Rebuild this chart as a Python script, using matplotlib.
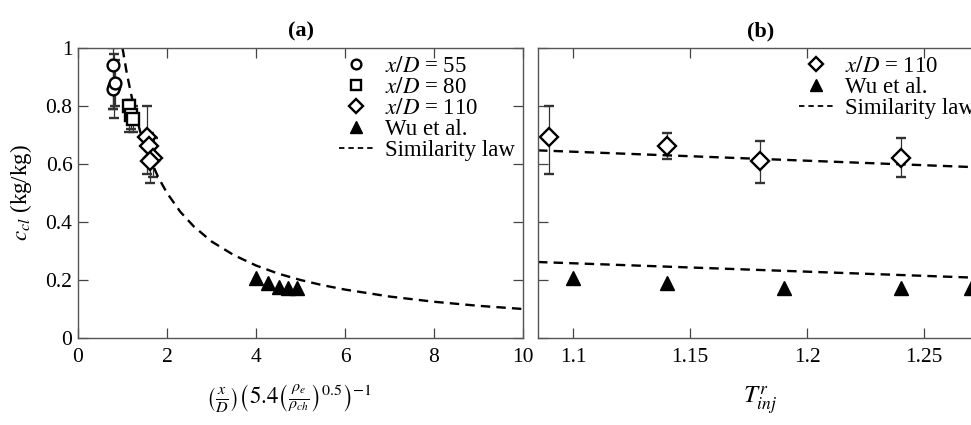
import matplotlib
matplotlib.use("Agg")
import matplotlib.pyplot as plt
from matplotlib.lines import Line2D
from matplotlib.ticker import FixedLocator, FixedFormatter

plt.rcParams["font.family"] = "serif"
plt.rcParams["font.serif"] = ["Liberation Serif", "DejaVu Serif"]
plt.rcParams["mathtext.fontset"] = "stix"
plt.rcParams["font.size"] = 16

# --- panel (a): similarity variable ---
xd55_x = [0.79, 0.81, 0.79, 0.83]
xd55_y = [0.94, 0.87, 0.86, 0.88]
xd55_lo = [0.79, 0.76, 0.79, 0.80]
xd55_hi = [1.00, 0.98, 0.93, 0.96]

xd80_x = [1.15, 1.19, 1.24]
xd80_y = [0.80, 0.77, 0.755]
xd80_lo = [0.71, 0.72, 0.71]
xd80_hi = [0.82, 0.82, 0.80]

xd110_x = [1.55, 1.60, 1.69, 1.62]
xd110_y = [0.693, 0.662, 0.62, 0.612]
xd110_lo = [0.566, 0.617, 0.555, 0.535]
xd110_hi = [0.80, 0.707, 0.69, 0.68]

wu_x = [4.00, 4.27, 4.52, 4.72, 4.92]
wu_y = [0.207, 0.188, 0.176, 0.172, 0.172]

law_x = [1.0, 1.1, 1.25, 1.4, 1.6, 1.8, 2.0, 2.3, 2.6, 3.0, 3.5, 4.0,
         4.5, 5.0, 5.5, 6.0, 7.0, 8.0, 9.0, 10.0]
law_y = [1.0, 0.91, 0.80, 0.71, 0.625, 0.555, 0.50, 0.435, 0.385, 0.333,
         0.286, 0.25, 0.222, 0.20, 0.182, 0.167, 0.143, 0.125, 0.111, 0.10]

# --- panel (b): injection temperature ratio ---
tinj = [1.0897, 1.140, 1.180, 1.240]
tinj_y = [0.693, 0.662, 0.61, 0.62]
tinj_lo = [0.566, 0.617, 0.535, 0.555]
tinj_hi = [0.80, 0.707, 0.68, 0.69]

wu_t = [1.10, 1.14, 1.19, 1.24, 1.27]
wu_ty = [0.207, 0.188, 0.174, 0.172, 0.172]

law_t = [1.085, 1.2752]
law_up = [0.647, 0.588]
law_low = [0.262, 0.207]

fig = plt.figure(figsize=(9.71, 4.25), dpi=100)
ax1 = fig.add_axes([78 / 971, 87 / 425, 445 / 971, 290 / 425])
ax2 = fig.add_axes([538 / 971, 87 / 425, 445 / 971, 290 / 425])

dash = (0, (4, 2.6))
ebkw = dict(ecolor="#333333", elinewidth=0.9, capsize=3.5, capthick=0.9)
mkw = dict(mfc="white", mec="black", mew=1.7, ls="none")


def err(y, lo, hi):
    return [[a - b for a, b in zip(y, lo)], [b - a for a, b in zip(y, hi)]]


ax1.errorbar(xd55_x, xd55_y, yerr=err(xd55_y, xd55_lo, xd55_hi),
             marker="o", ms=8.5, **mkw, **ebkw)
ax1.errorbar(xd80_x, xd80_y, yerr=err(xd80_y, xd80_lo, xd80_hi),
             marker="s", ms=8.5, **mkw, **ebkw)
ax1.errorbar(xd110_x, xd110_y, yerr=err(xd110_y, xd110_lo, xd110_hi),
             marker="D", ms=9, **mkw, **ebkw)
ax1.plot(wu_x, wu_y, "^", color="black", ms=10.5)
ax1.plot(law_x, law_y, color="black", lw=1.7, ls=dash)

ax2.errorbar(tinj, tinj_y, yerr=err(tinj_y, tinj_lo, tinj_hi),
             marker="D", ms=9, **mkw, **ebkw)
ax2.plot(wu_t, wu_ty, "^", color="black", ms=10.5, clip_on=False)
ax2.plot(law_t, law_up, color="black", lw=1.7, ls=dash)
ax2.plot(law_t, law_low, color="black", lw=1.7, ls=dash)

ax1.set_xlim(0, 10)
ax1.set_ylim(0, 1)
ax1.set_xticks([0, 2, 4, 6, 8, 10])
ax1.set_yticks([0, 0.2, 0.4, 0.6, 0.8, 1])
ax1.set_yticklabels(["0", "0.2", "0.4", "0.6", "0.8", "1"])

ax2.set_xlim(1.085, 1.2752)
ax2.set_ylim(0, 1)
ax2.xaxis.set_major_locator(FixedLocator([1.1, 1.15, 1.2, 1.25]))
ax2.xaxis.set_major_formatter(FixedFormatter(["1.1", "1.15", "1.2", "1.25"]))
ax2.set_yticks([0, 0.2, 0.4, 0.6, 0.8, 1])
ax2.set_yticklabels([])

h55 = Line2D([], [], marker="o", ms=7, **mkw)
h80 = Line2D([], [], marker="s", ms=7, **mkw)
h110 = Line2D([], [], marker="D", ms=7, **mkw)
hwu = Line2D([], [], marker="^", ms=8, color="black", ls="none")
hlaw = Line2D([], [], color="black", lw=1.3, ls=(0, (3, 2.2)))

leg_kw = dict(loc="upper right", frameon=False, fontsize=16.5,
              handlelength=1.5, handletextpad=0.5, labelspacing=0.0,
              borderaxespad=0.0, borderpad=0.35)
ax1.legend([h55, h80, h110, hwu, hlaw],
           ["$x/D$ = 55", "$x/D$ = 80", "$x/D$ = 110", "Wu et al.", "Similarity law"],
           **leg_kw)
ax2.legend([h110, hwu, hlaw], ["$x/D$ = 110", "Wu et al.", "Similarity law"],
           **leg_kw)

for ax in (ax1, ax2):
    ax.tick_params(direction="in", top=True, right=True, length=7,
                   width=0.9, color="#444444", labelsize=15.5)
    ax.tick_params(axis="x", pad=7)
    ax.tick_params(axis="y", pad=4)
    for s in ax.spines.values():
        s.set_color("#555555")
        s.set_linewidth(1.0)

ax1.set_title("(a)", fontsize=16, fontweight="bold", pad=8)
ax2.set_title("(b)", fontsize=16, fontweight="bold", pad=8)
ax1.set_ylabel("$c_{cl}$ (kg/kg)", fontsize=16.5, labelpad=8)
ax1.set_xlabel(r"$\left(\frac{x}{D}\right)\left(5.4\left(\frac{\rho_e}{\rho_{ch}}\right)^{0.5}\right)^{-1}$",
               fontsize=16.5)
ax1.xaxis.set_label_coords(0.475, -0.155)
ax2.set_xlabel("$T_{inj}^{r}$", fontsize=18)
ax2.xaxis.set_label_coords(0.5, -0.16)

fig.savefig("out.png", dpi=100)
